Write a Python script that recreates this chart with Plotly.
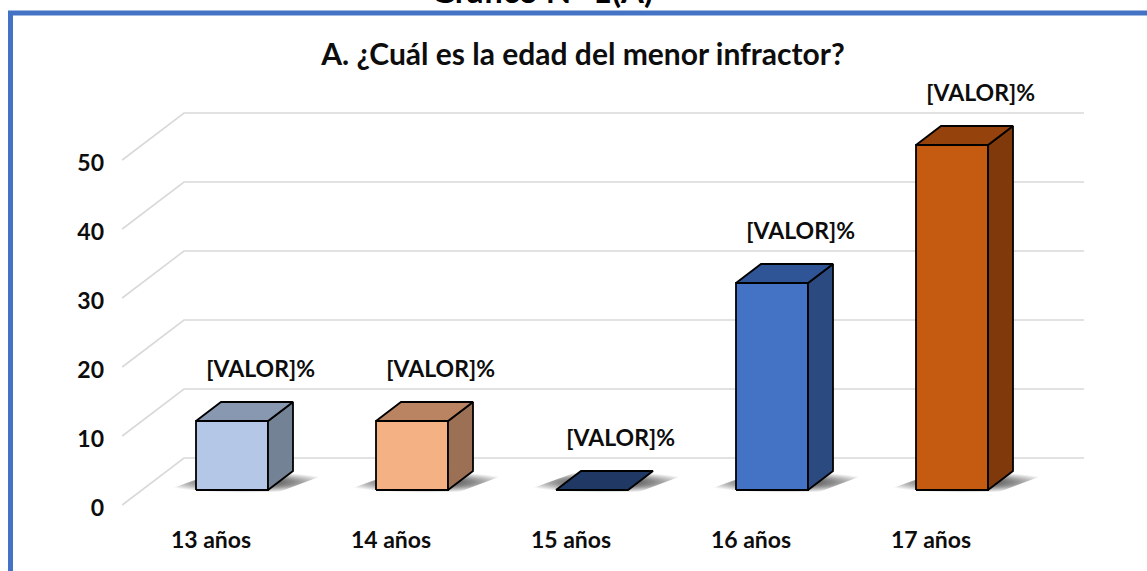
import plotly.graph_objects as go

# ---- data ----
categories = ["13 años", "14 años", "15 años", "16 años", "17 años"]
values = [10, 10, 0, 30, 50]
label_text = ["[VALOR]%"] * 5
y_ticks = [0, 10, 20, 30, 40, 50]
front_colors = ["#B4C7E7", "#F4B183", "#203864", "#4472C4", "#C55A11"]
top_colors = ["#8898B0", "#BA8462", "#1F355C", "#2F5597", "#96420D"]
side_colors = ["#748296", "#9C7054", "#1A2C4C", "#2B4A80", "#7F390B"]

W, H = 1147, 571
FONT = "Lato"

# pixel geometry of the oblique projection
PX_PER_CAT = 180.0
PX_PER_VAL = 6.9
X0_PX = 232.0      # centre of first bar
Y0_PX = 490.0      # value 0 on the bar front plane
xmin = -X0_PX / PX_PER_CAT
xmax = xmin + W / PX_PER_CAT
ymax = Y0_PX / PX_PER_VAL
ymin = ymax - H / PX_PER_VAL

def off(dx_px, dy_px):
    return dx_px / PX_PER_CAT, -dy_px / PX_PER_VAL

BAR_DX, BAR_DY = off(25, -19)      # bar depth
FR_DX, FR_DY = off(-19.8, 15)      # front plane
BK_DX, BK_DY = off(42, -32)        # back wall
LBL_DX, LBL_DY = off(-21, 18)      # tick-label plane
HALF = 0.2

fig = go.Figure()

# gridlines (back wall + left wall diagonals)
gx, gy = [], []
for v in y_ticks:
    gx += [-0.5 + FR_DX, -0.5 + BK_DX, 4.5 + BK_DX, None]
    gy += [v + FR_DY, v + BK_DY, v + BK_DY, None]
fig.add_trace(go.Scatter(x=gx, y=gy, mode="lines", line=dict(color="#D9D9D9", width=1.6),
                         hoverinfo="skip", showlegend=False))

# floor shadows
for i, v in enumerate(values):
    sx = [i - HALF - 0.2, i + HALF + 0.05, i + HALF + BAR_DX + 0.22, i - HALF + BAR_DX - 0.02, i - HALF - 0.2]
    sy = [-0.4, -0.4, BAR_DY - 0.1, BAR_DY - 0.1, -0.4]
    fig.add_trace(go.Scatter(x=sx, y=sy, mode="lines", fill="toself", line=dict(width=0),
                             fillgradient=dict(type="radial",
                                               colorscale=[[0, "rgba(0,0,0,0.85)"], [0.55, "rgba(0,0,0,0.45)"],
                                                           [1, "rgba(0,0,0,0)"]]),
                             hoverinfo="skip", showlegend=False))

# 3-D columns: front, top and side faces
for i, v in enumerate(values):
    if v > 0:
        fx = [i - HALF, i + HALF, i + HALF, i - HALF, i - HALF]
        fy = [0, 0, v, v, 0]
        fig.add_trace(go.Scatter(x=fx, y=fy, mode="lines", fill="toself", fillcolor=front_colors[i],
                                 line=dict(color="black", width=1.8), hoverinfo="skip", showlegend=False))
        sx = [i + HALF, i + HALF + BAR_DX, i + HALF + BAR_DX, i + HALF, i + HALF]
        sy = [0, BAR_DY, v + BAR_DY, v, 0]
        fig.add_trace(go.Scatter(x=sx, y=sy, mode="lines", fill="toself", fillcolor=side_colors[i],
                                 line=dict(color="black", width=1.8), hoverinfo="skip", showlegend=False))
    tx = [i - HALF, i + HALF, i + HALF + BAR_DX, i - HALF + BAR_DX, i - HALF]
    ty = [v, v, v + BAR_DY, v + BAR_DY, v]
    fig.add_trace(go.Scatter(x=tx, y=ty, mode="lines", fill="toself",
                             fillcolor=top_colors[i] if v > 0 else front_colors[i],
                             line=dict(color="black", width=1.8), hoverinfo="skip", showlegend=False))

# data labels
fig.add_trace(go.Scatter(x=[i + BAR_DX + 0.02 for i in range(len(values))],
                         y=[v + BAR_DY + 4.5 for v in values],
                         mode="text", text=label_text, textposition="middle center",
                         textfont=dict(family=FONT, size=23, color="#0D0D0D", weight="bold"),
                         hoverinfo="skip", showlegend=False))

# invisible trace carrying the front-plane axes
fig.add_trace(go.Scatter(x=[0], y=[0], xaxis="x2", yaxis="y2", mode="markers",
                         marker=dict(opacity=0), hoverinfo="skip", showlegend=False))

axfont = dict(family=FONT, size=23, color="#0D0D0D", weight="bold")
fig.update_layout(
    width=W, height=H,
    margin=dict(l=0, r=0, t=0, b=0),
    paper_bgcolor="white", plot_bgcolor="white",
    xaxis=dict(range=[xmin, xmax], visible=False, fixedrange=True),
    yaxis=dict(range=[ymin, ymax], visible=False, fixedrange=True),
    xaxis2=dict(range=[xmin - LBL_DX, xmax - LBL_DX], overlaying="x", anchor="free",
                position=1 - 524 / H, side="bottom",
                tickvals=list(range(len(categories))), ticktext=categories,
                tickfont=axfont, showgrid=False, showline=False, zeroline=False, ticks=""),
    yaxis2=dict(range=[ymin - LBL_DY, ymax - LBL_DY], overlaying="y", anchor="free",
                position=104 / W, side="left",
                tickvals=y_ticks, tickfont=axfont, showgrid=False, showline=False,
                zeroline=False, ticks=""),
    title=dict(text="A. ¿Cuál es la edad del menor infractor?", x=583 / W, xanchor="center",
               y=1 - 54 / H, yanchor="middle",
               font=dict(family=FONT, size=30, color="#0D0D0D", weight="bold")),
    annotations=[dict(text="Gráfico N° 1(A)", xref="paper", yref="paper", x=542 / W, y=1 + 10 / H,
                      xanchor="center", yanchor="middle", showarrow=False,
                      font=dict(family=FONT, size=33, color="black", weight="bold"))],
    shapes=[dict(type="rect", xref="paper", yref="paper", x0=10.5 / W, x1=1.05, y0=-0.05, y1=1 - 13 / H,
                 line=dict(color="#4472C4", width=5), fillcolor="rgba(0,0,0,0)", layer="below")],
)

fig.write_html("out.html", config={"displayModeBar": False},
               post_script="document.body.style.margin='0px';")
